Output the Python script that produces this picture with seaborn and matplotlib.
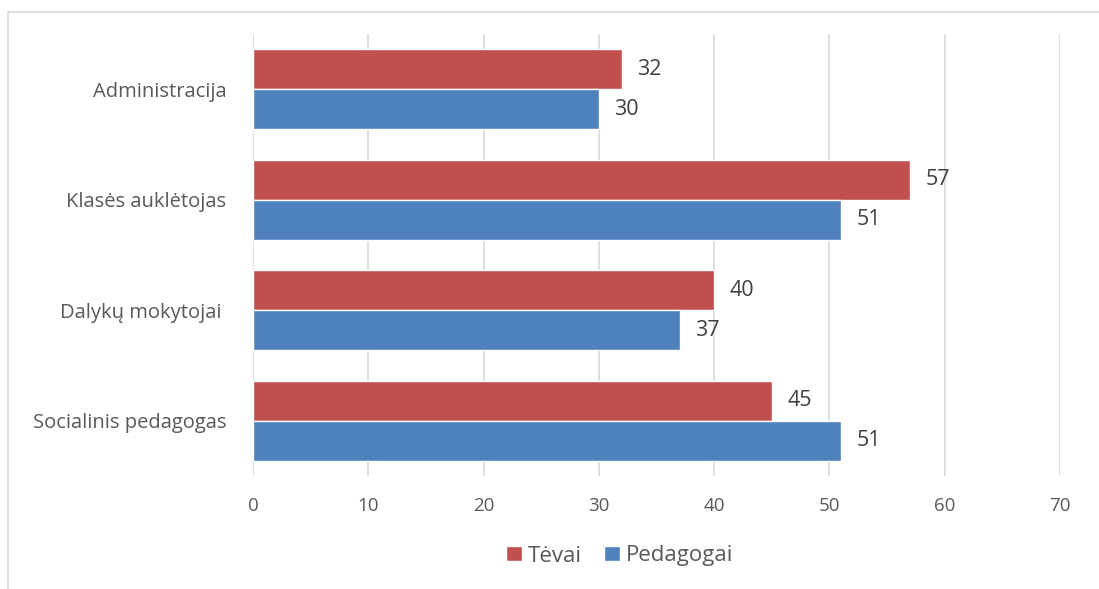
import numpy as np
import pandas as pd
import matplotlib.pyplot as plt
from matplotlib.lines import Line2D
import seaborn as sns

categories = ["Administracija", "Klasės auklėtojas", "Dalykų mokytojai ", "Socialinis pedagogas"]
tevai = [32, 57, 40, 45]
pedagogai = [30, 51, 37, 51]
series = ["Tėvai", "Pedagogai"]
colors = {"Tėvai": "#C0504D", "Pedagogai": "#4F81BD"}

df = pd.DataFrame({
    "kategorija": categories * 2,
    "reiksme": tevai + pedagogai,
    "grupe": [series[0]] * len(categories) + [series[1]] * len(categories),
})

sns.set_style("white")
plt.rcParams["font.family"] = ["Open Sans", "DejaVu Sans"]

fig = plt.figure(figsize=(10.99, 5.89), dpi=100)
ax = fig.add_axes([253 / 1099, 1 - 476 / 589, (1060 - 253) / 1099, (476 - 34) / 589])

sns.barplot(data=df, y="kategorija", x="reiksme", hue="grupe", hue_order=series,
            order=categories, palette=colors, orient="h", width=0.72,
            saturation=1, ax=ax, legend=True)

for cont in ax.containers:
    ax.bar_label(cont, padding=11, fontsize=15.5, color="#404040")

ax.set_xlim(0, 70)
ax.set_xticks(np.arange(0, 71, 10))
ax.grid(axis="x", color="#D9D9D9", linewidth=1.2)
ax.set_axisbelow(True)
for s in ax.spines.values():
    s.set_visible(False)
ax.tick_params(axis="both", length=0, labelcolor="#595959")
ax.tick_params(axis="x", pad=15, labelsize=13.5)
ax.tick_params(axis="y", pad=19, labelsize=14.5)
ax.set_xlabel("")
ax.set_ylabel("")

handles, labels = ax.get_legend_handles_labels()
ax.legend_.remove()
fig.legend(handles, labels, loc="center", bbox_to_anchor=(620 / 1099, 1 - 556 / 589),
           ncol=2, frameon=False, fontsize=16, labelcolor="#595959",
           handlelength=0.68, handleheight=0.68, handletextpad=0.3, columnspacing=1.0)

# outer chart border (only top and left visible in the crop)
fig.add_artist(Line2D([8 / 1099, 1], [1 - 12 / 589, 1 - 12 / 589], color="#D9D9D9", linewidth=1.2))
fig.add_artist(Line2D([8 / 1099, 8 / 1099], [0, 1 - 12 / 589], color="#D9D9D9", linewidth=1.2))

fig.savefig("out.png", dpi=100)
